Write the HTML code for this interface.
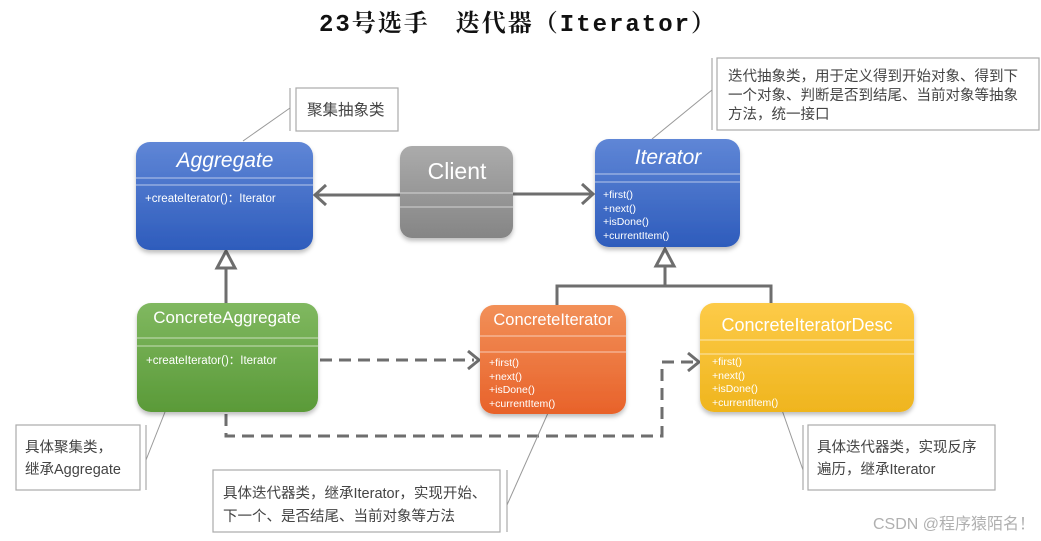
<!DOCTYPE html>
<html><head><meta charset="utf-8"><style>
html,body{margin:0;padding:0;background:#fff;}
svg{display:block;}
text{font-family:"Liberation Sans","Noto Sans CJK SC",sans-serif;}
</style></head><body>
<svg width="1041" height="541" viewBox="0 0 1041 541" xmlns="http://www.w3.org/2000/svg">
<defs>
<linearGradient id="gb" x1="0" y1="0" x2="0" y2="1"><stop offset="0" stop-color="#5f86d6"/><stop offset="1" stop-color="#2e5cbc"/></linearGradient>
<linearGradient id="gg" x1="0" y1="0" x2="0" y2="1"><stop offset="0" stop-color="#ababab"/><stop offset="1" stop-color="#858585"/></linearGradient>
<linearGradient id="gn" x1="0" y1="0" x2="0" y2="1"><stop offset="0" stop-color="#80b860"/><stop offset="1" stop-color="#5a9a38"/></linearGradient>
<linearGradient id="go" x1="0" y1="0" x2="0" y2="1"><stop offset="0" stop-color="#f29058"/><stop offset="1" stop-color="#e8622a"/></linearGradient>
<linearGradient id="gy" x1="0" y1="0" x2="0" y2="1"><stop offset="0" stop-color="#fdcb48"/><stop offset="1" stop-color="#efb51e"/></linearGradient>
<filter id="sh" x="-10%" y="-10%" width="120%" height="130%"><feDropShadow dx="0" dy="3" stdDeviation="2" flood-color="#000" flood-opacity="0.25"/></filter>
</defs>
<text x="518" y="31" text-anchor="middle" font-size="24" font-weight="bold" letter-spacing="2" style="font-family:'Liberation Mono','Noto Serif CJK SC',serif" fill="#111">23号选手　迭代器（Iterator）</text>

<g stroke="#6e6e6e" stroke-width="3" fill="none">
<line x1="400" y1="195" x2="316" y2="195"/><polyline points="326,185 315,195 326,205"/>
<line x1="513" y1="194" x2="592" y2="194"/><polyline points="582,184 593,194 582,204"/>
<line x1="226" y1="303" x2="226" y2="268"/><polygon points="226,251 217,268 235,268"/>
<line x1="665" y1="286" x2="665" y2="266"/><polygon points="665,249 656,266 674,266"/>
<polyline points="557,305 557,286 771,286 771,303"/>
<g stroke-dasharray="12,7"><line x1="320" y1="360" x2="474" y2="360"/>
<polyline points="226,414 226,436 662,436 662,362 694,362"/></g>
<polyline points="468,351 479,360 468,369"/>
<polyline points="688,353 699,362 688,371"/>
</g>

<g stroke="#999" stroke-width="1" fill="none">
<line x1="243" y1="141" x2="290" y2="108"/><line x1="290" y1="88" x2="290" y2="131"/>
<line x1="652" y1="139" x2="712" y2="90"/><line x1="712" y1="58" x2="712" y2="130"/>
<line x1="165" y1="412" x2="146" y2="460"/><line x1="146" y1="425" x2="146" y2="490"/>
<line x1="548" y1="413" x2="507" y2="505"/><line x1="507" y1="470" x2="507" y2="532"/>
<line x1="782" y1="410" x2="803" y2="470"/><line x1="803" y1="425" x2="803" y2="490"/>
</g>
<g stroke="#aaa" stroke-width="1.2" fill="#fff">
<rect x="296" y="88" width="102" height="43"/>
<rect x="717" y="58" width="322" height="72"/>
<rect x="16" y="425" width="124" height="65"/>
<rect x="213" y="470" width="287" height="62"/>
<rect x="808" y="425" width="187" height="65"/>
</g>
<g font-size="14.5" fill="#444">
<text x="307" y="115" font-size="15.5">聚集抽象类</text>
<text x="728" y="81">迭代抽象类，用于定义得到开始对象、得到下</text>
<text x="728" y="100">一个对象、判断是否到结尾、当前对象等抽象</text>
<text x="728" y="119">方法，统一接口</text>
<text x="25" y="452">具体聚集类，</text>
<text x="25" y="474">继承Aggregate</text>
<text x="223" y="498">具体迭代器类，继承Iterator，实现开始、</text>
<text x="223" y="521">下一个、是否结尾、当前对象等方法</text>
<text x="817" y="452">具体迭代器类，实现反序</text>
<text x="817" y="474">遍历，继承Iterator</text>
</g>

<g filter="url(#sh)">
<rect x="136" y="142" width="177" height="108" rx="14" fill="url(#gb)"/>
<rect x="400" y="146" width="113" height="92" rx="12" fill="url(#gg)"/>
<rect x="595" y="139" width="145" height="108" rx="14" fill="url(#gb)"/>
<rect x="137" y="303" width="181" height="109" rx="14" fill="url(#gn)"/>
<rect x="480" y="305" width="146" height="109" rx="14" fill="url(#go)"/>
<rect x="700" y="303" width="214" height="109" rx="14" fill="url(#gy)"/>
</g>
<g stroke="#fff" stroke-opacity="0.6" stroke-width="1">
<line x1="136" y1="178" x2="313" y2="178"/><line x1="136" y1="185" x2="313" y2="185"/>
<line x1="400" y1="193" x2="513" y2="193"/><line x1="400" y1="207" x2="513" y2="207"/>
<line x1="595" y1="174" x2="740" y2="174"/><line x1="595" y1="182" x2="740" y2="182"/>
<line x1="137" y1="338" x2="318" y2="338"/><line x1="137" y1="346" x2="318" y2="346"/>
<line x1="480" y1="336" x2="626" y2="336"/><line x1="480" y1="352" x2="626" y2="352"/>
<line x1="700" y1="340" x2="914" y2="340"/><line x1="700" y1="354" x2="914" y2="354"/>
</g>
<g fill="#fff">
<text x="225" y="167" text-anchor="middle" font-size="21" font-style="italic">Aggregate</text>
<text x="145" y="202" font-size="11.5">+createIterator()：Iterator</text>
<text x="457" y="179" text-anchor="middle" font-size="23">Client</text>
<text x="668" y="164" text-anchor="middle" font-size="21" font-style="italic">Iterator</text>
<g font-size="10.5"><text x="603" y="198">+first()</text><text x="603" y="212">+next()</text><text x="603" y="225">+isDone()</text><text x="603" y="239">+currentItem()</text></g>
<text x="227" y="323" text-anchor="middle" font-size="17">ConcreteAggregate</text>
<text x="146" y="364" font-size="11.5">+createIterator()：Iterator</text>
<text x="553" y="325" text-anchor="middle" font-size="16.5">ConcreteIterator</text>
<g font-size="10.5"><text x="489" y="366">+first()</text><text x="489" y="380">+next()</text><text x="489" y="393">+isDone()</text><text x="489" y="407">+currentItem()</text></g>
<text x="807" y="331" text-anchor="middle" font-size="18">ConcreteIteratorDesc</text>
<g font-size="10.5"><text x="712" y="365">+first()</text><text x="712" y="379">+next()</text><text x="712" y="392">+isDone()</text><text x="712" y="406">+currentItem()</text></g>
</g>
<text x="1035" y="529" text-anchor="end" font-size="16" fill="#b0b0b0">CSDN @程序猿陌名！</text>
</svg>
</body></html>
